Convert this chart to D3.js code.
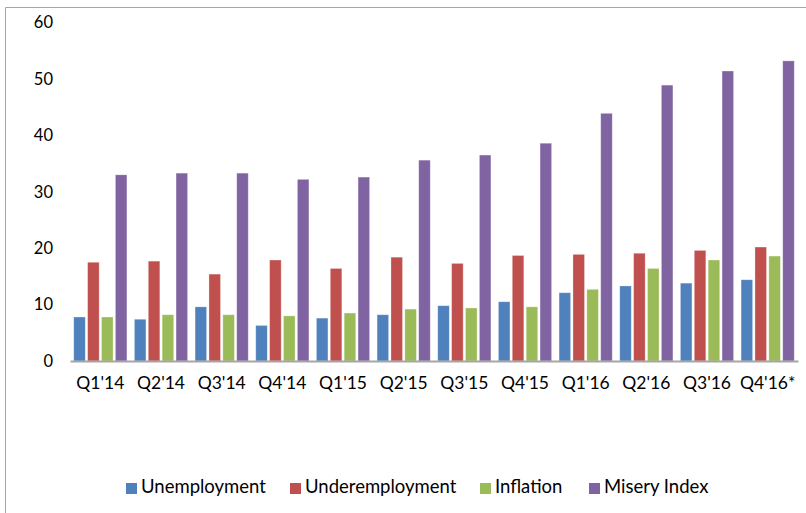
<!DOCTYPE html>
<html>
<head>
<meta charset="utf-8">
<script src="https://cdn.jsdelivr.net/npm/d3@7"></script>
<style>
  body { margin: 0; background: #fff; }
  text { font-family: Lato, "Open Sans", sans-serif; fill: #000; }
</style>
</head>
<body>
<div id="chart"></div>
<script>
let quarters = ["Q1'14", "Q2'14", "Q3'14", "Q4'14", "Q1'15", "Q2'15", "Q3'15", "Q4'15", "Q1'16", "Q2'16", "Q3'16", "Q4'16*"];
let seriesNames = ['Unemployment', 'Underemployment', 'Inflation', 'Misery Index'];
let unemployment = [7.8, 7.4, 9.6, 6.3, 7.6, 8.2, 9.8, 10.5, 12.1, 13.3, 13.8, 14.4];
let underemployment = [17.5, 17.7, 15.4, 17.9, 16.4, 18.4, 17.3, 18.7, 18.9, 19.1, 19.6, 20.2];
let inflation = [7.8, 8.2, 8.2, 8.0, 8.5, 9.2, 9.4, 9.6, 12.7, 16.4, 17.9, 18.6];
let misery = [33.0, 33.3, 33.3, 32.2, 32.6, 35.6, 36.5, 38.6, 43.9, 48.9, 51.4, 53.2];
let yTicks = [0, 10, 20, 30, 40, 50, 60];
let colors = ['#4f81bd', '#c0504d', '#9bbb59', '#8064a2'];

let seriesValues = [unemployment, underemployment, inflation, misery];
let data = quarters.map((q, i) => ({
    quarter: q,
    values: seriesNames.map((s, j) => ({ name: s, value: seriesValues[j][i] }))
}));

let width = 806;
let height = 513;
let margin = { top: 22.5, right: 8, bottom: 152, left: 70 };

function translate(x, y) {
    return 'translate(' + x + ',' + y + ')';
}

let svg = d3.select('#chart').append('svg')
    .attr('width', width)
    .attr('height', height);

// chart border (only left and top edges show in the frame)
svg.append('path')
    .attr('d', 'M5.5,' + height + 'V7.5H806')
    .attr('fill', 'none')
    .attr('stroke', '#a6a6a6')
    .attr('stroke-width', 1);

let x = d3.scaleBand()
    .domain(quarters)
    .range([margin.left, width - margin.right]);

let xInner = d3.scaleBand()
    .domain(seriesNames)
    .range([0, x.bandwidth()])
    .paddingInner(0.17)
    .paddingOuter(0.27);

let y = d3.scaleLinear()
    .domain([0, 60])
    .range([height - margin.bottom, margin.top]);

let groups = svg.selectAll('.group')
    .data(data)
    .enter()
    .append('g')
    .attr('class', 'group')
    .attr('transform', d => translate(x(d.quarter), 0));

groups.selectAll('rect')
    .data(d => d.values)
    .enter()
    .append('rect')
    .attr('x', d => xInner(d.name))
    .attr('y', d => y(d.value))
    .attr('width', xInner.bandwidth())
    .attr('height', d => y(0) - y(d.value))
    .attr('fill', (d, i) => colors[i])
    .attr('stroke', 'rgba(255,255,255,0.35)')
    .attr('stroke-width', 0.8);

// x axis
let xAxis = svg.append('g')
    .attr('transform', translate(0, y(0)))
    .call(d3.axisBottom(x).tickSize(0).tickPadding(16));
xAxis.select('.domain').attr('stroke', '#a6a6a6').attr('stroke-width', 2);
xAxis.selectAll('text').style('font-size', '17.5px').attr('fill', '#000');

// y axis
let yAxis = svg.append('g')
    .attr('transform', translate(margin.left - 17, 0))
    .call(d3.axisLeft(y).tickValues(yTicks).tickSize(0).tickPadding(0));
yAxis.select('.domain').remove();
yAxis.selectAll('text').style('font-size', '16.5px').attr('fill', '#000');

// legend
let legendX = [126, 290, 480, 589];
let legend = svg.selectAll('.legend')
    .data(seriesNames)
    .enter()
    .append('g')
    .attr('class', 'legend')
    .attr('transform', (d, i) => translate(legendX[i], 487));

legend.append('rect')
    .attr('x', 0)
    .attr('y', -4)
    .attr('width', 11)
    .attr('height', 11)
    .attr('fill', (d, i) => colors[i]);

legend.append('text')
    .attr('x', 15)
    .attr('dy', '0.35em')
    .style('font-size', '18.5px')
    .text(d => d);
</script>
</body>
</html>
